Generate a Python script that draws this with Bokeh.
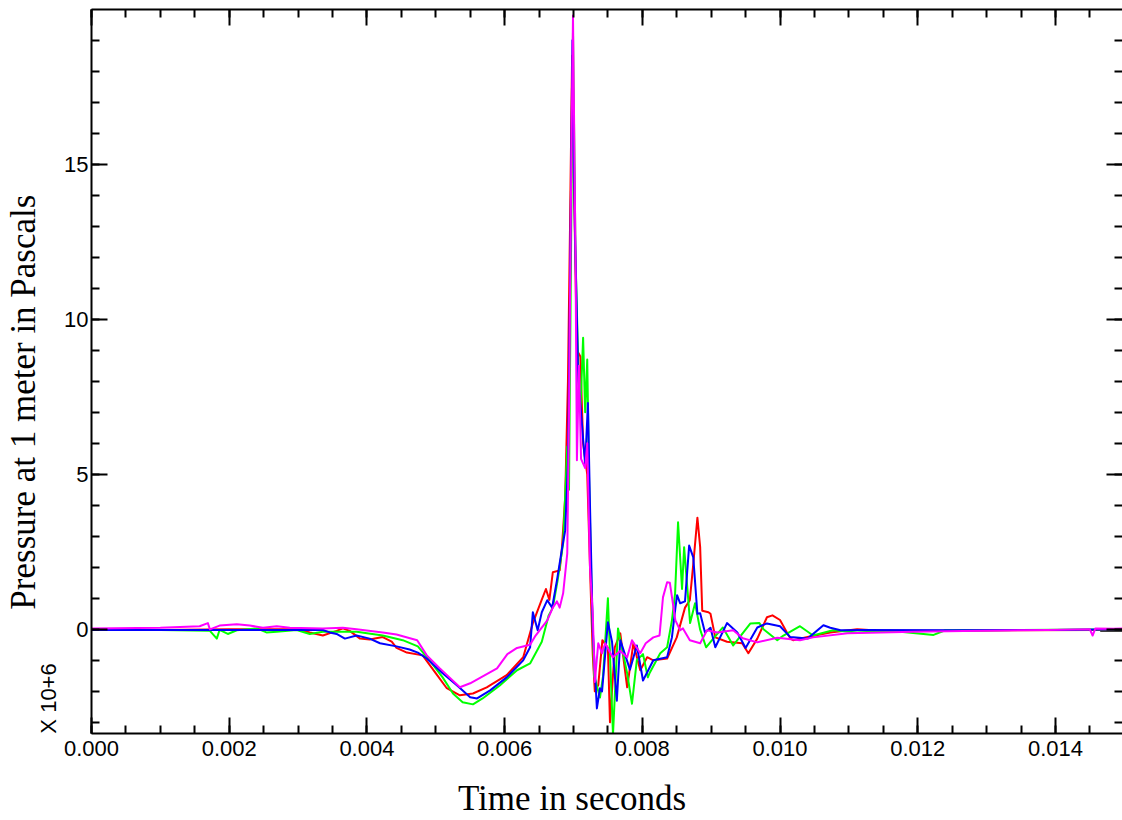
import math
from bokeh.plotting import figure
from bokeh.models import (LinearAxis, SingleIntervalTicker, FixedTicker,
                          CustomJSTickFormatter, NumeralTickFormatter, Range1d, Grid)
from bokeh.embed import file_html
from bokeh.resources import INLINE

NAN = float("nan")

# ---- data (time in milliseconds, pressure in units of 10^6 Pa) ----
red_t = [0, 1.0, 2.0, 3.0, 3.17, 3.36, 3.56, 3.65, 3.75, 3.90, 4.04, 4.23, 4.36, 4.43, 4.58, 4.81,
         5.02, 5.16, 5.35, 5.54, 5.74, 6.03, 6.27, 6.41, 6.53, 6.60, 6.65, 6.70, 6.80, 6.83, 6.88,
         6.92, 6.95, 6.98, 7.01, 7.05, 7.10, 7.14, 7.20, 7.24, 7.28, 7.31, 7.36, 7.42, 7.50, 7.53,
         7.60, 7.68, 7.78, 7.87, 7.97, 8.07, 8.16, 8.36, 8.50, 8.62, 8.69, 8.74, 8.80, 8.84, 8.87,
         8.96, 8.99, 9.06, 9.23, 9.45, 9.54, 9.67, 9.81, 9.89, 10.0, 10.15, 10.19, 10.40, 10.73,
         11.12, 11.46, 12.5, 13.5, 14.6, 15.0]
red_p = [0.0, -0.02, 0.0, 0.0, -0.1, -0.2, -0.05, 0.03, -0.05, -0.3, -0.33, -0.25, -0.4, -0.6, -0.75, -0.84,
         -1.48, -1.9, -2.13, -2.07, -1.87, -1.48, -0.9, 0.2, 0.9, 1.3, 0.95, 1.84, 1.9, 2.55, 4.26,
         8.0, 13.0, 18.5, 14.0, 9.0, 8.8, 6.0, 5.0, 2.0, -0.8, -2.0, -1.8, -0.35, -0.6, -3.0,
         -0.58, -0.13, -1.87, -0.45, -1.32, -0.9, -1.0, -0.94, -0.26, 0.7, 0.94, 2.1, 3.6, 2.65, 0.6,
         0.55, 0.5, -0.26, -0.4, -0.45, -0.77, -0.3, 0.39, 0.45, 0.3, -0.3, -0.35, -0.25, -0.1,
         0.0, -0.05, -0.05, -0.03, -0.02, 0.0]

green_t = [0, 1.0, 1.72, 1.82, 1.86, 1.98, 2.11, 2.40, 2.54, 2.69, 2.98, 3.17, 3.36, 3.85, 4.23, 4.52,
           4.74, 4.91, 5.10, 5.25, 5.39, 5.54, 5.68, 5.93, 6.18, 6.37, 6.54, 6.64, 6.70, 6.77, 6.85,
           6.91, 6.935, 6.964, 6.993, 7.03, 7.07, 7.10, 7.14, 7.17, 7.20, 7.225, 7.26, 7.30, 7.385,
           7.43, 7.50, 7.574, 7.647, 7.78, 7.85, 7.92, 8.01, 8.08, 8.11, 8.26, 8.36, 8.43, 8.476,
           8.519, 8.577, 8.607, 8.694, 8.766, 8.839, 8.926, 9.03, 9.17, 9.32, 9.57, 9.70, 9.76,
           9.96, 10.05, 10.29, 10.48, 10.77, 11.12, 11.6, 12.23, 12.4, 13.5, 15.0]
green_p = [-0.02, -0.02, -0.05, -0.3, -0.02, -0.15, -0.03, 0.03, -0.1, -0.08, -0.02, -0.15, -0.08, -0.08, -0.2, -0.35,
           -0.55, -1.0, -1.55, -2.07, -2.35, -2.42, -2.23, -1.81, -1.32, -1.1, -0.4, 0.45, 0.7, 1.58, 2.77,
           5.9, 4.5, 12.0, 19.3, 12.0, 8.5, 7.0, 9.4, 7.0, 8.7, 5.0, 1.5, -1.5, -2.2,
           -1.5, 1.0, -3.4, 0.03, -1.42, -2.4, -1.0, -0.8, -1.55, -1.39, -0.77, -0.58, 0.29, 1.16,
           3.45, 1.3, 2.65, 0.2, 0.84, 0.0, -0.58, -0.3, 0.06, -0.52, 0.19, 0.2, 0.0,
           -0.35, -0.2, 0.1, -0.2, -0.03, -0.1, -0.05, -0.18, -0.03, -0.02, 0.0]

blue_t = [0, 2.0, 3.36, 3.46, 3.56, 3.68, 3.85, 4.04, 4.19, 4.43, 4.62, 4.74, 4.87, 5.10, 5.31, 5.50,
          5.60, 5.79, 6.03, 6.27, 6.37, 6.41, 6.48, 6.54, 6.62, 6.69, 6.76, 6.83, 6.88, 6.92, 6.95,
          6.985, 7.02, 7.07, 7.11, 7.17, 7.21, 7.24, 7.28, 7.34, 7.385, 7.415, 7.50, 7.56, 7.63,
          7.68, 7.82, 7.92, 8.01, 8.16, 8.36, 8.43, 8.48, 8.505, 8.55, 8.62, 8.68, 8.74, 8.80, 8.84,
          8.91, 8.99, 9.06, 9.23, 9.38, 9.50, 9.67, 9.81, 10.0, 10.15, 10.40, 10.63, 10.73, 10.88,
          11.21, 12.5, 14.0, 15.0]
blue_p = [-0.02, -0.02, -0.02, -0.1, -0.15, -0.3, -0.2, -0.3, -0.45, -0.55, -0.65, -0.75, -0.94, -1.42, -1.81, -2.19,
          -2.23, -1.97, -1.55, -1.0, -0.58, 0.55, -0.03, 0.55, 0.94, 0.7, 1.58, 2.55, 3.19, 5.35, 11.0,
          19.0, 13.0, 8.0, 7.0, 5.3, 7.3, 4.0, 0.0, -2.55, -1.9, -2.0, 0.23, -0.4, -2.3,
          -0.35, -1.3, -0.52, -1.65, -1.0, -0.9, -0.26, 0.68, 1.1, 0.84, 0.9, 2.7, 2.32, 0.5, 0.52,
          -0.1, 0.05, -0.58, 0.2, -0.1, -0.6, 0.06, 0.19, 0.1, -0.25, -0.3, 0.13, 0.05, -0.03,
          -0.02, -0.03, -0.02, 0.0]

magenta_t = [0, 1.0, 1.57, 1.69, 1.72, 1.86, 2.11, 2.30, 2.49, 2.69, 2.88, 3.36, 3.65, 3.85, 4.23, 4.43,
             4.73, 4.87, 5.06, 5.35, 5.50, 5.89, 6.04, 6.18, 6.37, 6.45, 6.62, 6.70, 6.76, 6.80, 6.85,
             6.91, 6.935, 6.964, 6.993, 7.03, 7.05, 7.08, 7.11, 7.17, 7.20, 7.24, 7.28, 7.31, 7.36,
             7.415, 7.46, 7.57, 7.68, 7.78, 7.85, 7.97, 8.05, 8.16, 8.25, 8.30, 8.36, 8.40, 8.48,
             8.55, 8.59, 8.69, 8.84, 8.94, 9.09, 9.32, 9.46, 9.67, 9.96, 10.29, 10.48, 10.98, 11.94,
             12.91, 13.88, 14.50, 14.54, 14.58, 14.84, 15.0]
magenta_p = [0.03, 0.05, 0.1, 0.2, 0.0, 0.12, 0.16, 0.12, 0.05, 0.1, 0.05, 0.03, 0.05, 0.0, -0.1, -0.17,
             -0.35, -0.84, -1.26, -1.87, -1.74, -1.26, -0.8, -0.6, -0.5, -0.2, 0.29, 0.7, 0.9, 0.7, 1.16,
             2.45, 7.0, 14.0, 19.8, 12.0, 5.45, 8.5, 5.5, 5.2, 6.0, 2.0, 0.5, -1.7, -0.45,
             -0.77, -0.45, -0.9, -0.7, -0.9, -0.35, -0.77, -0.45, -0.26, -0.2, 1.03, 1.52, 1.5, 0.29,
             -0.03, 0.03, -0.35, -0.45, -0.03, -0.1, -0.03, -0.29, -0.42, -0.27, -0.35, -0.26, -0.13, -0.08,
             -0.05, -0.02, 0.0, -0.2, 0.03, 0.02, 0.03]

black_t = [0.0, 0.25, NAN, 14.65, 15.0]
black_p = [0.0, 0.0, NAN, -0.05, -0.05]

x_ticks_interval = 0.002
y_ticks_interval = 5

x_title = "Time in seconds"
y_title = "Pressure at 1 meter in Pascals"
y_note = "X 10+6"

SANS = "Liberation Sans"
SERIF = "Liberation Serif"
NBSP = "\u00a0"


def sec(ms):
    return [v * 1e-3 for v in ms]


p = figure(width=1122, height=820, output_backend="svg", toolbar_location=None,
           x_range=Range1d(0, 0.014974), y_range=Range1d(-3.36, 19.99),
           x_axis_location=None, y_axis_location=None,
           min_border_left=0, min_border_right=0, min_border_top=9, min_border_bottom=0)
p.outline_line_color = None
p.background_fill_color = "white"
p.border_fill_color = "white"
for r in list(p.center):
    if isinstance(r, Grid):
        r.visible = False

blank = CustomJSTickFormatter(code="return ''")


def style_ticks(ax):
    ax.axis_line_width = 2
    ax.axis_line_color = "black"
    ax.major_tick_in = 16
    ax.major_tick_out = 0
    ax.minor_tick_in = 8
    ax.minor_tick_out = 0
    ax.major_tick_line_width = 2
    ax.minor_tick_line_width = 2
    ax.major_tick_line_color = "black"
    ax.minor_tick_line_color = "black"


# bottom axis
xb = LinearAxis(ticker=SingleIntervalTicker(interval=x_ticks_interval, num_minor_ticks=4),
                formatter=NumeralTickFormatter(format="0.000"),
                axis_label=x_title + NBSP * 8)
style_ticks(xb)
xb.major_label_text_font = SANS
xb.major_label_text_font_size = "22px"
xb.major_label_text_color = "black"
xb.major_label_standoff = 7
xb.axis_label_text_font = SERIF
xb.axis_label_text_font_size = "35px"
xb.axis_label_text_font_style = "normal"
xb.axis_label_text_color = "black"
xb.axis_label_standoff = 20
p.add_layout(xb, "below")

# top axis (ticks only)
xt = LinearAxis(ticker=SingleIntervalTicker(interval=x_ticks_interval, num_minor_ticks=4),
                formatter=blank)
style_ticks(xt)
xt.major_label_standoff = 0
xt.major_label_text_font_size = "10px"
p.add_layout(xt, "above")

# left axis with tick labels
yl = LinearAxis(ticker=SingleIntervalTicker(interval=y_ticks_interval, num_minor_ticks=5))
style_ticks(yl)
yl.major_label_text_font = SANS
yl.major_label_text_font_size = "22px"
yl.major_label_text_color = "black"
yl.major_label_standoff = 3
p.add_layout(yl, "left")

# outer left axis carrying the multiplier note and axis title
yn = LinearAxis(ticker=FixedTicker(ticks=[-2.23], minor_ticks=[]),
                formatter=CustomJSTickFormatter(code="return '%s'" % y_note),
                axis_label=y_title + NBSP * 7)
yn.axis_line_color = None
yn.major_tick_line_color = None
yn.minor_tick_line_color = None
yn.major_tick_in = 0
yn.major_tick_out = 0
yn.major_label_orientation = "vertical"
yn.major_label_text_font = SANS
yn.major_label_text_font_size = "22px"
yn.major_label_text_color = "black"
yn.major_label_standoff = 0
yn.axis_label_text_font = SERIF
yn.axis_label_text_font_size = "35px"
yn.axis_label_text_font_style = "normal"
yn.axis_label_text_color = "black"
yn.axis_label_standoff = -9
p.add_layout(yn, "left")

# right axis (ticks only)
yr = LinearAxis(ticker=SingleIntervalTicker(interval=y_ticks_interval, num_minor_ticks=5),
                formatter=blank)
style_ticks(yr)
yr.axis_line_color = None
yr.major_label_standoff = 0
yr.major_label_text_font_size = "10px"
p.add_layout(yr, "right")

# series
p.line(sec(black_t), black_p, line_color="black", line_width=2)
for tt, pp, col in [(red_t, red_p, "#ff0000"), (green_t, green_p, "#00ff00"),
                    (blue_t, blue_p, "#0000ff"), (magenta_t, magenta_p, "#ff00ff")]:
    p.line(sec(tt), pp, line_color=col, line_width=2, line_join="round")

open("out.html", "w").write(file_html(p, INLINE))
